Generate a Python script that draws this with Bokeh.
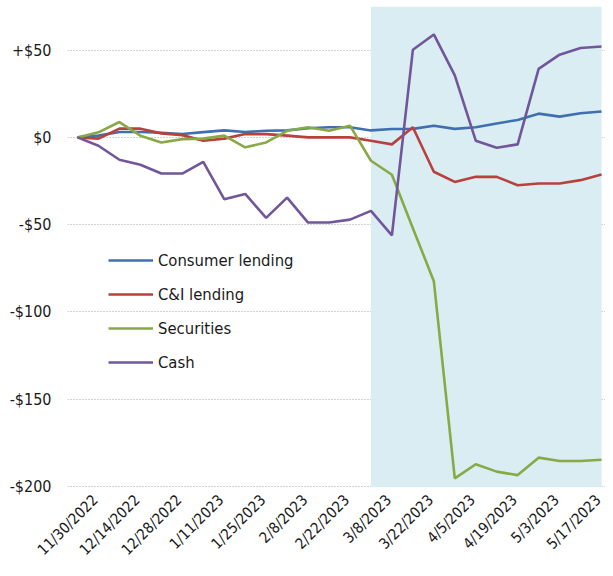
import math
from bokeh.plotting import figure
from bokeh.models import Range1d, BoxAnnotation, Legend, LegendItem, FixedTicker, LinearAxis
from bokeh.embed import file_html
from bokeh.resources import INLINE

dates = ["11/30/2022", "12/7/2022", "12/14/2022", "12/21/2022", "12/28/2022",
         "1/4/2023", "1/11/2023", "1/18/2023", "1/25/2023", "2/1/2023",
         "2/8/2023", "2/15/2023", "2/22/2023", "3/1/2023", "3/8/2023",
         "3/15/2023", "3/22/2023", "3/29/2023", "4/5/2023", "4/12/2023",
         "4/19/2023", "4/26/2023", "5/3/2023", "5/10/2023", "5/17/2023", "5/24/2023"]

consumer = [0, 1, 3.1, 3.1, 2.7, 1.9, 3, 4, 3.1, 3.8, 4, 5.2, 5.8, 5.8, 4, 4.8,
            4.9, 6.7, 4.9, 5.8, 8, 10, 13.6, 11.9, 13.8, 14.8]
ci_lending = [0, -0.7, 5, 5, 2.3, 1.3, -1.9, -0.7, 1.9, 1.9, 1, 0, 0, 0, -1.9, -4,
              5.8, -19.7, -25.5, -22.6, -22.6, -27.4, -26.4, -26.4, -24.5, -21.3]
securities = [0, 2.9, 8.8, 1, -2.9, -1, -0.7, 1, -5.7, -2.9, 3.8, 5.8, 3.8, 6.7, -13.4, -21.4,
              -52, -82.4, -195.4, -187.3, -191.5, -193.5, -183.5, -185.4, -185.4, -184.7]
cash = [0, -4.8, -12.8, -15.7, -20.7, -20.7, -14, -35.4, -32.4, -46.1, -34.5, -48.8, -48.8,
        -47.1, -42.1, -56.1, 50.2, 59, 35.5, -1.9, -5.9, -4, 39.3, 47.4, 51.2, 52.1]

series_names = ["Consumer lending", "C&I lending", "Securities", "Cash"]
series_colors = ["#3F6FAE", "#B8413E", "#88A946", "#71569B"]

y_ticks = [-200, -150, -100, -50, 0, 50]
y_tick_labels = ["-$200", "-$150", "-$100", "-$50", "$0", "+$50"]

shade_start = "3/8/2023"

FONT = "DejaVu Sans Condensed, DejaVu Sans"

x = list(range(len(dates)))
X0, X1 = -0.477, 25.19
Y0, Y1 = -200.6, 75

p = figure(width=605, height=568, output_backend="svg", toolbar_location=None,
           x_range=Range1d(X0, X1), y_range=Range1d(Y0, Y1),
           min_border_left=67, min_border_right=0, min_border_top=6, min_border_bottom=81)
p.outline_line_color = None
p.background_fill_color = "white"

# shaded period
shade = BoxAnnotation(left=dates.index(shade_start), right=len(dates) - 1,
                      fill_color="#DAEDF3", fill_alpha=1.0, line_color=None, level="underlay")
p.add_layout(shade)

# y axis
p.yaxis.ticker = FixedTicker(ticks=y_ticks)
p.yaxis.major_label_overrides = {t: l for t, l in zip(y_ticks, y_tick_labels)}
p.yaxis.axis_line_color = None
p.yaxis.major_tick_line_color = None
p.yaxis.minor_tick_line_color = None
p.yaxis.major_tick_out = 0
p.yaxis.major_tick_in = 0
p.yaxis.major_label_standoff = 16
p.yaxis.major_label_text_font = FONT
p.yaxis.major_label_text_font_size = "16px"
p.yaxis.major_label_text_color = "#1A1A1A"
p.ygrid.ticker = FixedTicker(ticks=y_ticks)
p.ygrid.grid_line_color = "#A6A6A6"
p.ygrid.grid_line_dash = "1 2"
p.ygrid.grid_line_width = 1
p.xgrid.visible = False

# x axis: date labels, every second week (labels drawn slightly right of the points, as in the original)
p.xaxis.visible = False
shift = 0.85
p.extra_x_ranges = {"lab": Range1d(X0 - shift, X1 - shift)}
xax = LinearAxis(x_range_name="lab",
                 ticker=FixedTicker(ticks=list(range(0, len(dates) - 1, 2))),
                 major_label_overrides={i: dates[i] for i in range(0, len(dates) - 1, 2)})
xax.major_label_orientation = math.pi / 4
xax.axis_line_color = None
xax.major_tick_line_color = None
xax.minor_tick_line_color = None
xax.major_tick_out = 0
xax.major_tick_in = 0
xax.major_label_standoff = 10
xax.major_label_text_font = FONT
xax.major_label_text_font_size = "15px"
xax.major_label_text_color = "#1A1A1A"
p.add_layout(xax, "below")

renderers = []
for vals, col in zip([consumer, ci_lending, securities, cash], series_colors):
    r = p.line(x, vals, line_color=col, line_width=2.6)
    renderers.append(r)

legend = Legend(items=[LegendItem(label=n, renderers=[r]) for n, r in zip(series_names, renderers)],
                location=(41, 115), glyph_width=45, glyph_height=20, label_height=20,
                spacing=14, padding=0, margin=0, border_line_color=None,
                background_fill_alpha=0, label_text_font=FONT, label_text_font_size="16.5px",
                label_standoff=5, label_text_color="#1A1A1A")
p.add_layout(legend)

open("out.html", "w").write(file_html(p, INLINE))
